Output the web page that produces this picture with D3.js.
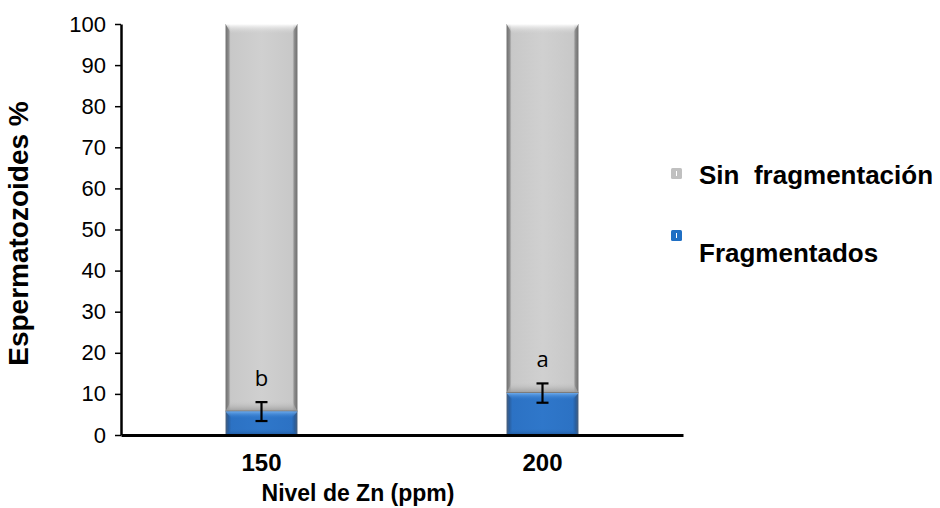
<!DOCTYPE html>
<html>
<head>
<meta charset="utf-8">
<script src="https://cdn.jsdelivr.net/npm/d3@7"></script>
<style>
  html, body { margin: 0; padding: 0; background: #ffffff; }
  svg { display: block; font-family: "Liberation Sans", Arial, sans-serif; }
  .keep-space { white-space: pre; }
</style>
</head>
<body>
<svg id="chart" width="940" height="508"></svg>
<script>
// Zinc levels and sperm DNA fragmentation (%)
const categories = ["150", "200"];
const fragmentados = [5.7, 10.2];
const fragError = [2.3, 2.35];
const sinFragmentacion = [94.3, 89.8];
const letters = ["b", "a"];
const yTicks = [0, 10, 20, 30, 40, 50, 60, 70, 80, 90, 100];
const seriesNames = ["Sin  fragmentación", "Fragmentados"];

const svg = d3.select("#chart");
const margin = { left: 121, right: 257, top: 24, bottom: 73 };
const W = 940, H = 508;

// one bar centred in each category slot
const x = d3.scaleBand().domain(categories)
  .range([margin.left, W - margin.right]).paddingInner(0.744).paddingOuter(0.372);
const y = d3.scaleLinear().domain([0, 100]).range([H - margin.bottom, margin.top]);

// gradients for the bevelled bar look
const defs = svg.append("defs");
function hGrad(id, stops) {
  const g = defs.append("linearGradient").attr("id", id)
    .attr("x1", 0).attr("x2", 1).attr("y1", 0).attr("y2", 0);
  stops.forEach(s => g.append("stop").attr("offset", s[0]).attr("stop-color", s[1]));
}
function vGrad(id, stops) {
  const g = defs.append("linearGradient").attr("id", id)
    .attr("x1", 0).attr("x2", 0).attr("y1", 0).attr("y2", 1);
  stops.forEach(s => g.append("stop").attr("offset", s[0]).attr("stop-color", s[1]).attr("stop-opacity", s[2] === undefined ? 1 : s[2]));
}
hGrad("grayBody", [[0, "#6f6f6f"], [0.04, "#8a8a8a"], [0.07, "#c8c8c8"], [0.5, "#d0d0d0"], [0.93, "#c8c8c8"], [0.96, "#8a8a8a"], [1, "#6f6f6f"]]);
hGrad("blueBody", [[0, "#4a5f7a"], [0.04, "#2a5f9f"], [0.08, "#2c72c4"], [0.5, "#2f77ca"], [0.92, "#2c72c4"], [0.96, "#2a5f9f"], [1, "#4a5f7a"]]);
vGrad("grayTop", [[0, "#ffffff", 1], [1, "#d0d0d0", 0]]);
vGrad("grayBottom", [[0, "#d0d0d0", 0], [1, "#9a9a9a", 1]]);
vGrad("blueTop", [[0, "#6aa8ea", 1], [1, "#2f77ca", 0]]);
vGrad("blueBottom", [[0, "#2f77ca", 0], [1, "#1f5aa0", 1]]);

const bw = x.bandwidth();
const bars = svg.append("g");

categories.forEach((c, i) => {
  const x0 = x(c);
  const f = fragmentados[i];
  const s = sinFragmentacion[i];
  const yFragTop = y(f);
  const ySinTop = y(f + s);

  // upper segment: Sin fragmentación
  bars.append("rect").attr("x", x0).attr("y", ySinTop)
    .attr("width", bw).attr("height", yFragTop - ySinTop).attr("fill", "url(#grayBody)");
  bars.append("path")
    .attr("d", `M${x0},${ySinTop} L${x0 + bw},${ySinTop} L${x0 + bw - 6},${ySinTop + 10} L${x0 + 6},${ySinTop + 10} Z`)
    .attr("fill", "url(#grayTop)");
  bars.append("path")
    .attr("d", `M${x0 + 6},${yFragTop - 12} L${x0 + bw - 6},${yFragTop - 12} L${x0 + bw},${yFragTop} L${x0},${yFragTop} Z`)
    .attr("fill", "url(#grayBottom)");
  bars.append("line").attr("x1", x0).attr("x2", x0 + bw)
    .attr("y1", yFragTop - 0.5).attr("y2", yFragTop - 0.5)
    .attr("stroke", "#7a7a7a").attr("stroke-width", 1);

  // lower segment: Fragmentados
  bars.append("rect").attr("x", x0).attr("y", yFragTop)
    .attr("width", bw).attr("height", y(0) - yFragTop).attr("fill", "url(#blueBody)");
  const bevel = Math.min(7, (y(0) - yFragTop) / 2);
  bars.append("path")
    .attr("d", `M${x0},${yFragTop} L${x0 + bw},${yFragTop} L${x0 + bw - 6},${yFragTop + bevel} L${x0 + 6},${yFragTop + bevel} Z`)
    .attr("fill", "url(#blueTop)");
  bars.append("path")
    .attr("d", `M${x0 + 6},${y(0) - bevel} L${x0 + bw - 6},${y(0) - bevel} L${x0 + bw},${y(0)} L${x0},${y(0)} Z`)
    .attr("fill", "url(#blueBottom)");

  // error bar on the fragmented share
  const cx = x0 + bw / 2;
  const e = fragError[i];
  const eg = svg.append("g").attr("stroke", "#000").attr("stroke-width", 2.2);
  eg.append("line").attr("x1", cx).attr("x2", cx).attr("y1", y(f + e)).attr("y2", y(f - e));
  eg.append("line").attr("x1", cx - 6).attr("x2", cx + 6).attr("y1", y(f + e)).attr("y2", y(f + e));
  eg.append("line").attr("x1", cx - 6).attr("x2", cx + 6).attr("y1", y(f - e)).attr("y2", y(f - e));

  // significance letter
  svg.append("text").attr("x", cx).attr("y", y(f + e) - 16)
    .attr("text-anchor", "middle").attr("font-size", 22)
    .attr("font-family", "'Open Sans', 'Liberation Sans', sans-serif")
    .attr("fill", "#000").text(letters[i]);
});

// y axis
const yAxis = d3.axisLeft(y).tickValues(yTicks).tickSize(6).tickSizeOuter(0).tickPadding(9);
const gy = svg.append("g").attr("transform", `translate(${margin.left},0)`).call(yAxis);
gy.select(".domain").attr("stroke", "#000").attr("stroke-width", 2.5);
gy.selectAll(".tick line").attr("stroke", "#000").attr("stroke-width", 1.5);
gy.selectAll(".tick text").attr("font-size", 22).attr("fill", "#000")
  .attr("font-family", "'Liberation Sans', Arial, sans-serif");

// x axis
const xAxis = d3.axisBottom(x).tickSize(0).tickSizeOuter(0).tickPadding(19);
const gx = svg.append("g").attr("transform", `translate(0,${y(0)})`).call(xAxis);
gx.select(".domain").attr("stroke", "#000").attr("stroke-width", 3);
gx.selectAll(".tick text").attr("font-size", 24).attr("font-weight", "bold").attr("fill", "#000")
  .attr("font-family", "'Liberation Sans', Arial, sans-serif");

// axis titles
svg.append("text").attr("x", 358).attr("y", 501).attr("text-anchor", "middle")
  .attr("font-size", 23).attr("font-weight", "bold").attr("fill", "#000")
  .text("Nivel de Zn (ppm)");
svg.append("text").attr("transform", `translate(28,${(y(0) + y(100)) / 2 + 4}) rotate(-90)`)
  .attr("text-anchor", "middle").attr("font-size", 28).attr("font-weight", "bold").attr("fill", "#000")
  .text("Espermatozoides %");

// legend
const legend = svg.append("g");
const legendColors = ["#c0c0c0", "#1f6fc4"];
const legendRows = [{ sq: 168, text: 184 }, { sq: 230, text: 262 }];
seriesNames.forEach((name, i) => {
  legend.append("rect").attr("x", 671).attr("y", legendRows[i].sq)
    .attr("width", 11).attr("height", 11).attr("rx", 1.5).attr("fill", legendColors[i]);
  legend.append("line").attr("x1", 676.5).attr("x2", 676.5)
    .attr("y1", legendRows[i].sq + 3).attr("y2", legendRows[i].sq + 8)
    .attr("stroke", "#fff").attr("stroke-width", 1);
  legend.append("text").attr("class", "keep-space").attr("x", 699).attr("y", legendRows[i].text)
    .attr("font-size", 26).attr("font-weight", "bold").attr("fill", "#000").text(name);
});
</script>
</body>
</html>
